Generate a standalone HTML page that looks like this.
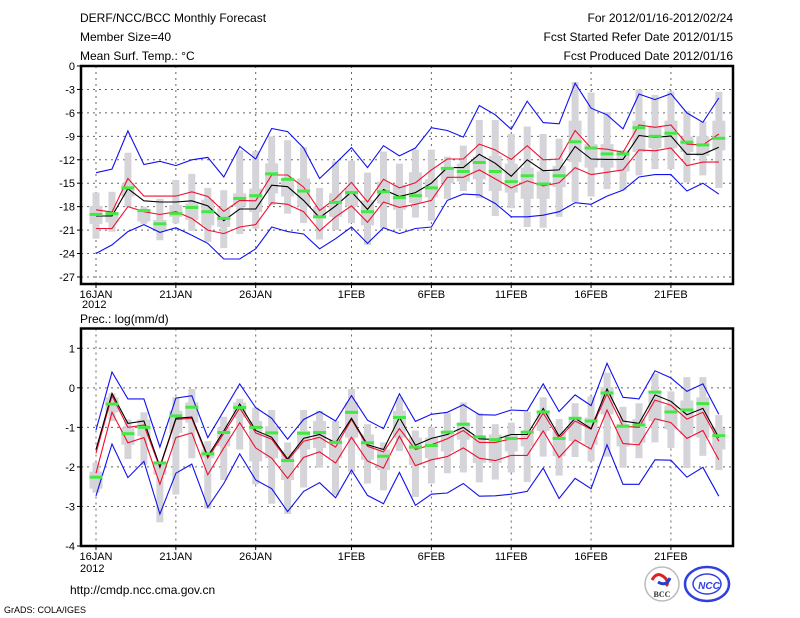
<!DOCTYPE html>
<html><head><meta charset="utf-8"><style>
body{margin:0;background:#fff;}
svg{display:block;font-family:"Liberation Sans",sans-serif;}
</style></head><body>
<svg id="c" width="800" height="618" xmlns="http://www.w3.org/2000/svg">
<g font-size="12" fill="#000">
<text x="80" y="22">DERF/NCC/BCC Monthly Forecast</text>
<text x="80" y="41">Member Size=40</text>
<text x="80" y="60">Mean Surf. Temp.: °C</text>
<text x="733" y="22" text-anchor="end">For 2012/01/16-2012/02/24</text>
<text x="733" y="41" text-anchor="end">Fcst Started Refer Date 2012/01/15</text>
<text x="733" y="60" text-anchor="end">Fcst Produced Date 2012/01/16</text>
</g>
<text x="80" y="323" font-size="12">Prec.: log(mm/d)</text>
<text x="82" y="308" font-size="11">2012</text>
<text x="80" y="572" font-size="11">2012</text>
<text x="70" y="594" font-size="12">http://cmdp.ncc.cma.gov.cn</text>
<text x="4" y="613" font-size="9">GrADS: COLA/IGES</text>
<g>
<circle cx="662" cy="584" r="17" fill="#fff" stroke="#bbb" stroke-width="1.5"/>
<path d="M652 580 q5 -9 12 -3 q6 5 2 9" fill="none" stroke="#e02020" stroke-width="3"/>
<path d="M670 578 q-4 9 -12 4" fill="none" stroke="#2040d0" stroke-width="3"/>
<text x="662" y="597" font-size="8" font-weight="bold" text-anchor="middle" fill="#333" font-family="Liberation Serif,serif">BCC</text>
</g>
<g>
<ellipse cx="707" cy="584" rx="22" ry="17" fill="#fff" stroke="#3040e0" stroke-width="2.5"/>
<ellipse cx="707" cy="584" rx="14" ry="10" fill="none" stroke="#3040e0" stroke-width="1.5"/>
<text x="709" y="589" font-size="10" font-weight="bold" font-style="italic" text-anchor="middle" fill="#3040e0">NCC</text>
</g>
<g id="top"></g>
<g id="bot"></g>
</svg>
<script>
// ---- Temperature data (°C), days 16JAN..24FEB ----
const tBlueHi=[-13.65,-13.2,-8.3,-12.6,-12.2,-12.75,-12.0,-11.7,-14.2,-10.3,-11.9,-8.0,-8.4,-10.5,-14.4,-12.45,-10.45,-13.0,-10.2,-11.5,-10.5,-7.9,-8.25,-9.1,-5.05,-6.25,-8.1,-4.5,-7.25,-7.4,-2.2,-5.4,-6.25,-8.05,-3.6,-4.3,-3.55,-6.0,-7.2,-4.1];
const tBlueLo=[-24.0,-22.9,-21.2,-20.3,-21.3,-20.7,-21.65,-22.7,-24.7,-24.7,-23.4,-20.6,-21.2,-21.5,-23.4,-22.1,-20.6,-22.7,-20.7,-21.45,-20.8,-20.6,-17.2,-16.4,-16.5,-17.6,-19.3,-19.3,-19.1,-18.65,-17.5,-17.7,-16.65,-15.9,-14.2,-13.9,-13.9,-16.0,-15.0,-16.4];
const tRedHi=[-18.4,-18.7,-14.4,-16.65,-16.65,-16.65,-16.1,-16.7,-18.6,-17.2,-17.25,-13.95,-13.95,-15.5,-18.5,-16.95,-14.9,-17.4,-14.5,-15.6,-14.95,-13.3,-11.9,-11.9,-10.0,-10.75,-11.95,-10.2,-12.0,-11.9,-8.25,-10.5,-10.65,-11.05,-7.55,-7.85,-7.55,-10.0,-10.1,-8.7];
const tRedLo=[-20.8,-20.8,-18.0,-18.65,-19.0,-18.65,-19.5,-21.0,-21.45,-20.6,-20.3,-17.5,-17.7,-18.65,-21.1,-19.3,-17.9,-20.0,-17.4,-18.1,-17.7,-17.2,-14.25,-14.25,-13.3,-14.45,-15.6,-14.7,-15.35,-14.95,-13.0,-13.9,-13.6,-13.3,-10.75,-10.85,-10.5,-12.75,-12.3,-12.3];
const tMean=[-19.2,-19.2,-15.7,-17.25,-17.4,-17.4,-17.25,-17.9,-19.8,-18.3,-18.3,-15.25,-15.45,-17.2,-19.4,-17.9,-16.1,-18.35,-15.8,-16.7,-16.2,-15.0,-13.0,-13.0,-11.3,-12.45,-14.1,-12.0,-13.4,-13.3,-10.3,-11.9,-11.95,-11.95,-8.9,-9.15,-8.95,-11.3,-11.3,-10.4];
const tObs=[-19.0,-18.9,-15.6,-18.5,-20.2,-18.9,-18.1,-18.65,-19.5,-16.95,-16.6,-13.8,-14.5,-16.0,-19.3,-17.45,-16.2,-18.65,-16.1,-16.85,-16.6,-15.6,-13.1,-13.5,-12.35,-13.5,-14.8,-14.05,-15.1,-14.05,-9.7,-10.5,-11.25,-11.25,-7.9,-9.0,-8.6,-9.75,-10.1,-9.25];
const tWhHi=[-16.2,-16.1,-11.1,-18.0,-17.0,-14.6,-13.8,-15.6,-15.9,-10.8,-10.9,-9.0,-9.5,-10.4,-15.6,-12.2,-12.1,-13.65,-10.95,-12.5,-10.7,-10.7,-11.6,-10.2,-6.9,-6.9,-8.7,-7.75,-8.7,-9.3,-2.05,-3.4,-5.9,-10.75,-3.0,-3.7,-3.25,-5.75,-7.1,-3.3];
const tWhLo=[-22.1,-21.2,-18.0,-20.2,-22.3,-20.15,-21.1,-22.5,-23.3,-21.5,-20.8,-17.8,-18.9,-20.1,-22.2,-21.0,-20.1,-22.9,-20.8,-20.8,-19.4,-19.8,-17.0,-16.0,-16.9,-19.2,-18.2,-20.6,-20.7,-19.3,-17.4,-16.7,-15.75,-15.9,-14.0,-13.2,-13.2,-14.9,-14.0,-15.6];
const tBoxHi=[-17.9,-18.7,-15.0,-18.3,-19.7,-17.8,-17.6,-17.1,-18.2,-16.3,-15.7,-12.45,-14.4,-14.4,-18.0,-16.3,-15.6,-17.2,-14.8,-15.2,-13.6,-14.5,-12.9,-12.5,-11.6,-11.5,-12.5,-13.0,-13.5,-12.8,-7.0,-10.0,-10.0,-10.8,-7.0,-7.8,-7.0,-9.0,-9.0,-7.0];
const tBoxLo=[-20.2,-20.0,-16.7,-19.9,-21.0,-19.3,-19.7,-20.4,-20.6,-18.0,-18.7,-16.3,-16.7,-18.0,-19.5,-19.3,-18.0,-20.4,-17.6,-18.4,-17.5,-16.8,-15.0,-14.8,-14.5,-16.0,-16.2,-17.0,-17.0,-15.5,-12.3,-13.0,-13.0,-13.5,-11.0,-10.5,-10.5,-11.0,-11.5,-10.8];
const tTicks=[0,-3,-6,-9,-12,-15,-18,-21,-24,-27];
// ---- Precipitation data (log mm/d) ----
const pBlueHi=[-1.07,0.4,-0.28,-0.28,-1.5,-0.26,-0.2,-1.26,-0.58,0.1,-0.5,-0.77,-1.3,-0.8,-0.6,-0.84,-0.2,-0.82,-1.03,-0.15,-0.85,-0.67,-0.62,-0.43,-0.68,-0.69,-0.56,-0.58,0.1,-0.6,-0.18,-0.45,0.62,-0.24,-0.28,0.43,0.25,-0.09,0.1,-0.67];
const pBlueLo=[-2.73,-1.42,-2.27,-1.86,-3.19,-2.16,-1.93,-3.02,-2.42,-1.67,-2.33,-2.55,-3.13,-2.62,-2.4,-2.78,-2.08,-2.72,-2.93,-2.14,-2.97,-2.69,-2.66,-2.42,-2.74,-2.73,-2.69,-2.62,-2.03,-2.8,-2.29,-2.55,-1.44,-2.44,-2.44,-1.82,-1.83,-2.26,-2.01,-2.74];
const pRedHi=[-1.65,-0.2,-1.0,-0.94,-2.02,-0.8,-0.77,-1.78,-1.15,-0.51,-1.14,-1.3,-1.84,-1.35,-1.25,-1.5,-0.8,-1.48,-1.62,-1.03,-1.56,-1.44,-1.29,-1.08,-1.38,-1.38,-1.29,-1.28,-0.64,-1.28,-0.84,-1.05,-0.15,-0.97,-1.0,-0.31,-0.44,-0.79,-0.62,-1.35];
const pRedLo=[-2.16,-0.62,-1.39,-1.26,-2.44,-1.26,-1.14,-2.2,-1.52,-0.88,-1.52,-1.78,-2.29,-1.76,-1.62,-1.9,-1.25,-1.85,-2.03,-1.22,-1.97,-1.82,-1.74,-1.52,-1.78,-1.84,-1.71,-1.71,-1.09,-1.76,-1.32,-1.55,-0.56,-1.41,-1.44,-0.78,-0.88,-1.28,-1.08,-1.82];
const pMean=[-1.56,-0.14,-0.9,-0.84,-1.99,-0.77,-0.74,-1.73,-1.09,-0.41,-1.08,-1.25,-1.8,-1.28,-1.18,-1.39,-0.77,-1.44,-1.56,-0.75,-1.45,-1.28,-1.18,-1.0,-1.29,-1.31,-1.18,-1.18,-0.52,-1.22,-0.77,-1.03,-0.03,-0.84,-0.9,-0.18,-0.34,-0.68,-0.52,-1.26];
const pObs=[-2.26,-0.41,-1.16,-1.0,-1.9,-0.71,-0.49,-1.67,-1.13,-0.5,-1.0,-1.14,-1.84,-1.15,-1.13,-1.38,-0.62,-1.39,-1.73,-0.75,-1.5,-1.46,-1.12,-0.92,-1.24,-1.31,-1.28,-1.12,-0.61,-1.28,-0.77,-0.84,-0.13,-0.97,-0.94,-0.11,-0.61,-0.56,-0.4,-1.21];
const pWhHi=[-1.89,-0.14,-0.8,-0.62,-1.95,-0.24,-0.03,-1.35,-0.73,-0.28,-0.5,-0.56,-1.38,-0.56,-0.58,-0.84,-0.03,-0.92,-1.38,-0.24,-1.08,-1.0,-0.64,-0.37,-0.64,-0.92,-0.88,-0.61,-0.24,-0.79,-0.39,-0.22,0.38,-0.48,-0.39,0.36,-0.09,0.27,0.27,-0.69];
const pWhLo=[-2.65,-0.84,-1.8,-1.95,-3.4,-2.7,-1.78,-3.06,-2.33,-1.56,-2.44,-2.93,-3.19,-2.52,-2.02,-2.72,-2.12,-2.42,-2.59,-1.6,-2.76,-2.42,-2.16,-2.14,-2.39,-2.32,-2.14,-2.38,-1.74,-2.22,-1.75,-1.86,-1.74,-2.02,-1.78,-1.38,-1.52,-2.03,-1.72,-2.08];
const pBoxHi=[-2.12,-0.24,-1.0,-0.8,-1.86,-0.58,-0.37,-1.56,-1.0,-0.37,-0.84,-0.97,-1.61,-1.09,-0.84,-1.31,-0.37,-1.18,-1.56,-0.58,-1.26,-1.26,-1.09,-0.88,-1.22,-1.18,-1.18,-1.09,-0.58,-1.09,-0.79,-0.75,0.02,-0.92,-0.79,-0.07,-0.45,-0.32,-0.24,-1.01];
const pBoxLo=[-2.55,-0.62,-1.44,-1.22,-2.2,-1.14,-0.88,-1.78,-1.48,-0.75,-1.86,-1.78,-2.33,-1.56,-1.52,-1.78,-1.26,-1.82,-2.08,-1.26,-1.95,-1.78,-1.61,-1.31,-1.9,-1.9,-1.61,-1.48,-1.09,-1.73,-1.35,-1.44,-0.67,-1.48,-1.39,-0.84,-1.05,-1.18,-1.26,-1.56];
const pTicks=[1,0,-1,-2,-3,-4];
const dateLabels=["16JAN","21JAN","26JAN","1FEB","6FEB","11FEB","16FEB","21FEB"];
const dateIdx=[0,5,10,16,21,26,31,36];

const NS="http://www.w3.org/2000/svg";
const X0=81,X1=733;
function xDay(i){return 96+15.97*i;}
function mk(tag,attrs,parent){const e=document.createElementNS(NS,tag);for(const k in attrs)e.setAttribute(k,attrs[k]);parent.appendChild(e);return e;}

function panel(g,top,bottom,vTop,vBot,ticks,d,pre){
  const y=v=>top+(vTop-v)/(vTop-vBot)*(bottom-top);
  ticks.forEach(t=>{
    const yy=y(t);
    if(yy>top+1&&yy<bottom-1){const l=mk('line',{x1:X0,x2:X1,y1:yy,y2:yy,stroke:'#666','stroke-dasharray':'2,4','stroke-width':1},g);
    
    }
    const tk=mk('line',{x1:X0-4,x2:X0,y1:yy,y2:yy,stroke:'#000'},g);
    
    
    const tx=mk('text',{x:X0-6,y:yy+4,'font-size':11,'text-anchor':'end'},g);
    tx.textContent=String(t);
    
    
  });
  dateIdx.forEach((di,k)=>{
    const xx=xDay(di);
    const l=mk('line',{x1:xx,x2:xx,y1:top,y2:bottom,stroke:'#666','stroke-dasharray':'2,4'},g);
    
    
    const tk=mk('line',{x1:xx,x2:xx,y1:bottom,y2:bottom+4,stroke:'#000'},g);
    
    
    const tx=mk('text',{x:xx,y:bottom+14,'font-size':11,'text-anchor':'middle'},g);
    tx.textContent=dateLabels[k];
    
    
  });
  for(let i=0;i<d.whHi.length;i++){
    const x=xDay(i);
    const w=mk('rect',{x:x-3.5,width:7,y:y(d.whHi[i]),height:y(d.whLo[i])-y(d.whHi[i]),fill:'#d4d4d9'},g);
    
    
    const b=mk('rect',{x:x-6.5,width:13,y:y(d.boxHi[i]),height:y(d.boxLo[i])-y(d.boxHi[i]),fill:'#d4d4d9'},g);
    
    
  }
  const line=(arr,col,name)=>{
    const p=mk('polyline',{points:arr.map((v,i)=>xDay(i).toFixed(1)+','+y(v).toFixed(1)).join(' '),fill:'none',stroke:col,'stroke-width':1.1},g);
    
    
  };
  line(d.blueHi,'#1010f0',pre+'max-line');
  line(d.blueLo,'#1010f0',pre+'min-line');
  line(d.redHi,'#f01030',pre+'upper-line');
  line(d.redLo,'#f01030',pre+'lower-line');
  line(d.mean,'#000',pre+'mean-line');
  for(let i=0;i<d.obs.length;i++){
    const r=mk('rect',{x:xDay(i)-6.5,width:13,y:y(d.obs[i])-1.5,height:3,fill:'#44e844'},g);
    
    
  }
  const fr=mk('rect',{x:X0,y:top,width:X1-X0,height:bottom-top,fill:'none',stroke:'#000','stroke-width':2.5},g);
  
  
}
panel(document.getElementById('top'),66,284,0,-27.9,tTicks,
 {blueHi:tBlueHi,blueLo:tBlueLo,redHi:tRedHi,redLo:tRedLo,mean:tMean,obs:tObs,whHi:tWhHi,whLo:tWhLo,boxHi:tBoxHi,boxLo:tBoxLo},'temp-');
panel(document.getElementById('bot'),328.5,546,1.5,-4,pTicks,
 {blueHi:pBlueHi,blueLo:pBlueLo,redHi:pRedHi,redLo:pRedLo,mean:pMean,obs:pObs,whHi:pWhHi,whLo:pWhLo,boxHi:pBoxHi,boxLo:pBoxLo},'prec-');
</script>
</body></html>
